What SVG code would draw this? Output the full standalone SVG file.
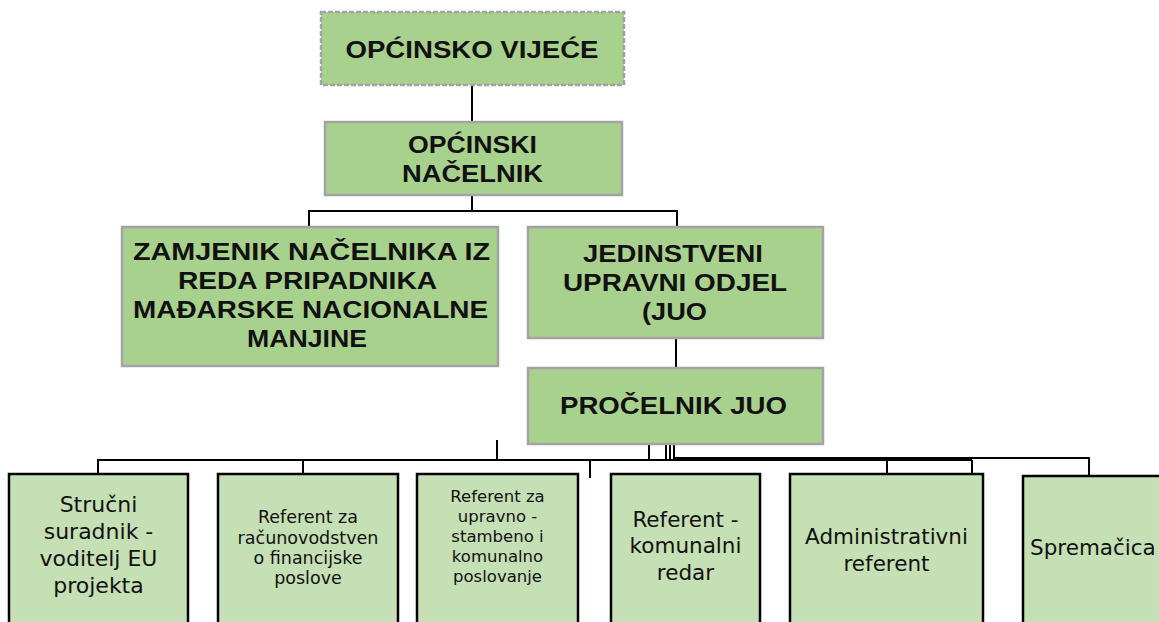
<svg xmlns="http://www.w3.org/2000/svg" width="1159" height="622" viewBox="0 0 1159 622">
<style>
.top{fill:#a9d18e;stroke:#a3a3a3;stroke-width:2.5}
.dash{stroke-dasharray:5 2}
.bot{fill:#c5e0b4;stroke:#000;stroke-width:2.5}
.tb{font-family:"Liberation Sans",Arial,sans-serif;font-weight:bold;font-size:24.5px;fill:#111;text-anchor:middle}
.tl{font-family:"DejaVu Sans",Verdana,sans-serif;font-size:21.5px;fill:#111;text-anchor:middle}
.ts{font-family:"DejaVu Sans",Verdana,sans-serif;font-size:16.5px;fill:#111;text-anchor:middle}
.c{fill:none;stroke:#000;stroke-width:2}
</style>
<rect width="1159" height="622" fill="#fff"/>
<g id="connectors">
<path class="c" d="M472 85V122"/>
<path class="c" d="M472 195V211M309 227V211H677V227"/>
<path class="c" d="M676 338V368"/>
<path class="c" d="M649 444V460M666 444V460M670 444V460M674 444V460"/>
<path class="c" d="M98 474V460H674"/>
<path class="c" d="M303 460V474"/>
<path class="c" d="M497 440V460"/>
<path class="c" d="M590 460V478"/>
<path class="c" d="M674 459H972" style="stroke-width:4"/>
<path class="c" d="M887 460V474M972 460V474"/>
<path class="c" d="M972 458H1089V476"/>
</g>
<g id="vijece">
<rect class="top dash" x="321" y="12" width="303" height="73"/>
<text class="tb" x="472" y="57.5" textLength="253" lengthAdjust="spacingAndGlyphs">OPĆINSKO VIJEĆE</text>
</g>
<g id="nacelnik">
<rect class="top" x="325" y="122" width="297" height="73"/>
<text class="tb" x="472.5" y="152.5" textLength="129" lengthAdjust="spacingAndGlyphs">OPĆINSKI</text>
<text class="tb" x="472.5" y="181.5" textLength="141" lengthAdjust="spacingAndGlyphs">NAČELNIK</text>
</g>
<g id="zamjenik">
<rect class="top" x="122" y="227" width="376" height="139"/>
<text class="tb" x="311.5" y="260" textLength="357" lengthAdjust="spacingAndGlyphs">ZAMJENIK NAČELNIKA IZ</text>
<text class="tb" x="307.5" y="289" textLength="259" lengthAdjust="spacingAndGlyphs">REDA PRIPADNIKA</text>
<text class="tb" x="310.5" y="318" textLength="355" lengthAdjust="spacingAndGlyphs">MAĐARSKE NACIONALNE</text>
<text class="tb" x="307" y="347" textLength="120" lengthAdjust="spacingAndGlyphs">MANJINE</text>
</g>
<g id="juo">
<rect class="top" x="528" y="227" width="295" height="111"/>
<text class="tb" x="673" y="262" textLength="180" lengthAdjust="spacingAndGlyphs">JEDINSTVENI</text>
<text class="tb" x="675" y="291" textLength="224" lengthAdjust="spacingAndGlyphs">UPRAVNI ODJEL</text>
<text class="tb" x="674.5" y="320" textLength="65" lengthAdjust="spacingAndGlyphs">(JUO</text>
</g>
<g id="procelnik">
<rect class="top" x="528" y="368" width="295" height="76"/>
<text class="tb" x="673.5" y="414" textLength="227" lengthAdjust="spacingAndGlyphs">PROČELNIK JUO</text>
</g>
<g id="strucni">
<rect class="bot" x="9" y="474" width="179" height="170"/>
<text class="tl" x="98.5" y="512" style="font-size:22px">Stručni</text>
<text class="tl" x="98.5" y="539" style="font-size:22px">suradnik -</text>
<text class="tl" x="98.5" y="566" style="font-size:22px">voditelj EU</text>
<text class="tl" x="98.5" y="593" style="font-size:22px">projekta</text>
</g>
<g id="racunovodstvo">
<rect class="bot" x="218" y="474" width="180" height="170"/>
<text class="ts" x="308" y="523" style="font-size:17.5px">Referent za</text>
<text class="ts" x="308" y="544" style="font-size:17.5px">računovodstven</text>
<text class="ts" x="308" y="564" style="font-size:17.5px">o financijske</text>
<text class="ts" x="308" y="584" style="font-size:17.5px">poslove</text>
</g>
<g id="upravno">
<rect class="bot" x="417" y="474" width="161" height="170"/>
<text class="ts" x="497.5" y="502">Referent za</text>
<text class="ts" x="497.5" y="522">upravno -</text>
<text class="ts" x="497.5" y="542">stambeno i</text>
<text class="ts" x="497.5" y="562">komunalno</text>
<text class="ts" x="497.5" y="582">poslovanje</text>
</g>
<g id="komunalni">
<rect class="bot" x="611" y="474" width="149" height="170"/>
<text class="tl" x="685.5" y="527">Referent -</text>
<text class="tl" x="685.5" y="553">komunalni</text>
<text class="tl" x="685.5" y="580">redar</text>
</g>
<g id="administrativni">
<rect class="bot" x="790" y="474" width="193" height="170"/>
<text class="tl" x="886.5" y="544">Administrativni</text>
<text class="tl" x="886.5" y="571">referent</text>
</g>
<g id="spremacica">
<rect class="bot" x="1023" y="476" width="160" height="170"/>
<text class="tl" x="1030" y="555" style="text-anchor:start">Spremačica</text>
</g>
</svg>
